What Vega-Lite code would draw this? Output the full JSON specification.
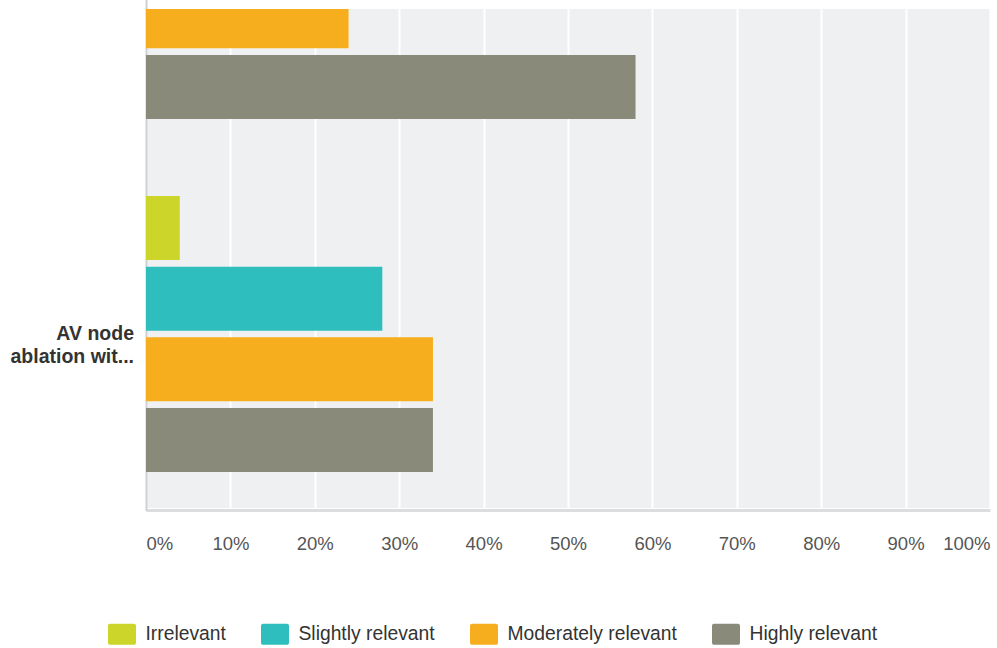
{
  "$schema": "https://vega.github.io/schema/vega-lite/v6.json",
  "autosize": {"type": "none"},
  "padding": {"left": 146, "top": 9, "right": 7, "bottom": 140},
  "width": 844,
  "height": 499,
  "data": {
    "values": [
      {"question": "Previous option", "answer": "Moderately relevant", "percent": 24},
      {"question": "Previous option", "answer": "Highly relevant", "percent": 58},
      {"question": "AV node ablation wit...", "answer": "Irrelevant", "percent": 4},
      {"question": "AV node ablation wit...", "answer": "Slightly relevant", "percent": 28},
      {"question": "AV node ablation wit...", "answer": "Moderately relevant", "percent": 34},
      {"question": "AV node ablation wit...", "answer": "Highly relevant", "percent": 34}
    ]
  },
  "mark": {"type": "bar", "clip": true},
  "encoding": {
    "y": {
      "field": "question",
      "type": "nominal",
      "sort": ["Previous option", "AV node ablation wit..."],
      "scale": {"range": [-204.5, 501.5], "paddingInner": 0, "paddingOuter": 0},
      "axis": {
        "title": null,
        "ticks": false,
        "grid": false,
        "domainColor": "#cfd0d2",
        "domainWidth": 2,
        "labelFont": "Liberation Sans",
        "labelFontSize": 19.5,
        "labelFontWeight": "bold",
        "labelColor": "#333333",
        "labelPadding": 12.5,
        "labelLineHeight": 23,
        "labelLimit": 300,
        "labelExpr": "datum.value == 'AV node ablation wit...' ? ['AV node', 'ablation wit...'] : ''"
      }
    },
    "yOffset": {
      "field": "answer",
      "type": "nominal",
      "sort": ["Irrelevant", "Slightly relevant", "Moderately relevant", "Highly relevant"],
      "scale": {"paddingInner": 0.0943, "paddingOuter": 0.545}
    },
    "x": {
      "field": "percent",
      "type": "quantitative",
      "scale": {"domain": [0, 100]},
      "axis": {
        "title": null,
        "values": [0, 10, 20, 30, 40, 50, 60, 70, 80, 90, 100],
        "labelExpr": "datum.value + '%'",
        "ticks": false,
        "domainColor": "#dcdddf",
        "domainWidth": 3,
        "offset": 2,
        "grid": true,
        "gridColor": "#ffffff",
        "gridWidth": 2,
        "labelFont": "Liberation Sans",
        "labelFontSize": 18.5,
        "labelColor": "#555555",
        "labelPadding": 24,
        "labelFlush": true
      }
    },
    "color": {
      "field": "answer",
      "type": "nominal",
      "sort": ["Irrelevant", "Slightly relevant", "Moderately relevant", "Highly relevant"],
      "scale": {
        "domain": ["Irrelevant", "Slightly relevant", "Moderately relevant", "Highly relevant"],
        "range": ["#ccd52a", "#2ebebe", "#f6ae1e", "#898a79"]
      },
      "legend": {
        "orient": "none",
        "legendX": -38,
        "legendY": 611,
        "direction": "horizontal",
        "title": null,
        "padding": 0,
        "symbolType": "M-0.85,-0.75H0.85A0.15,0.15 0 0 1 1,-0.6V0.6A0.15,0.15 0 0 1 0.85,0.75H-0.85A0.15,0.15 0 0 1 -1,0.6V-0.6A0.15,0.15 0 0 1 -0.85,-0.75Z",
        "symbolSize": 784,
        "symbolStrokeWidth": 0,
        "symbolOpacity": 1,
        "labelFont": "Liberation Sans",
        "labelFontSize": 19.3,
        "labelColor": "#333333",
        "labelOffset": 9.5,
        "columnPadding": 35,
        "labelLimit": 300
      }
    }
  },
  "config": {
    "view": {"fill": "#eff0f2", "stroke": null},
    "bar": {"opacity": 1}
  }
}
